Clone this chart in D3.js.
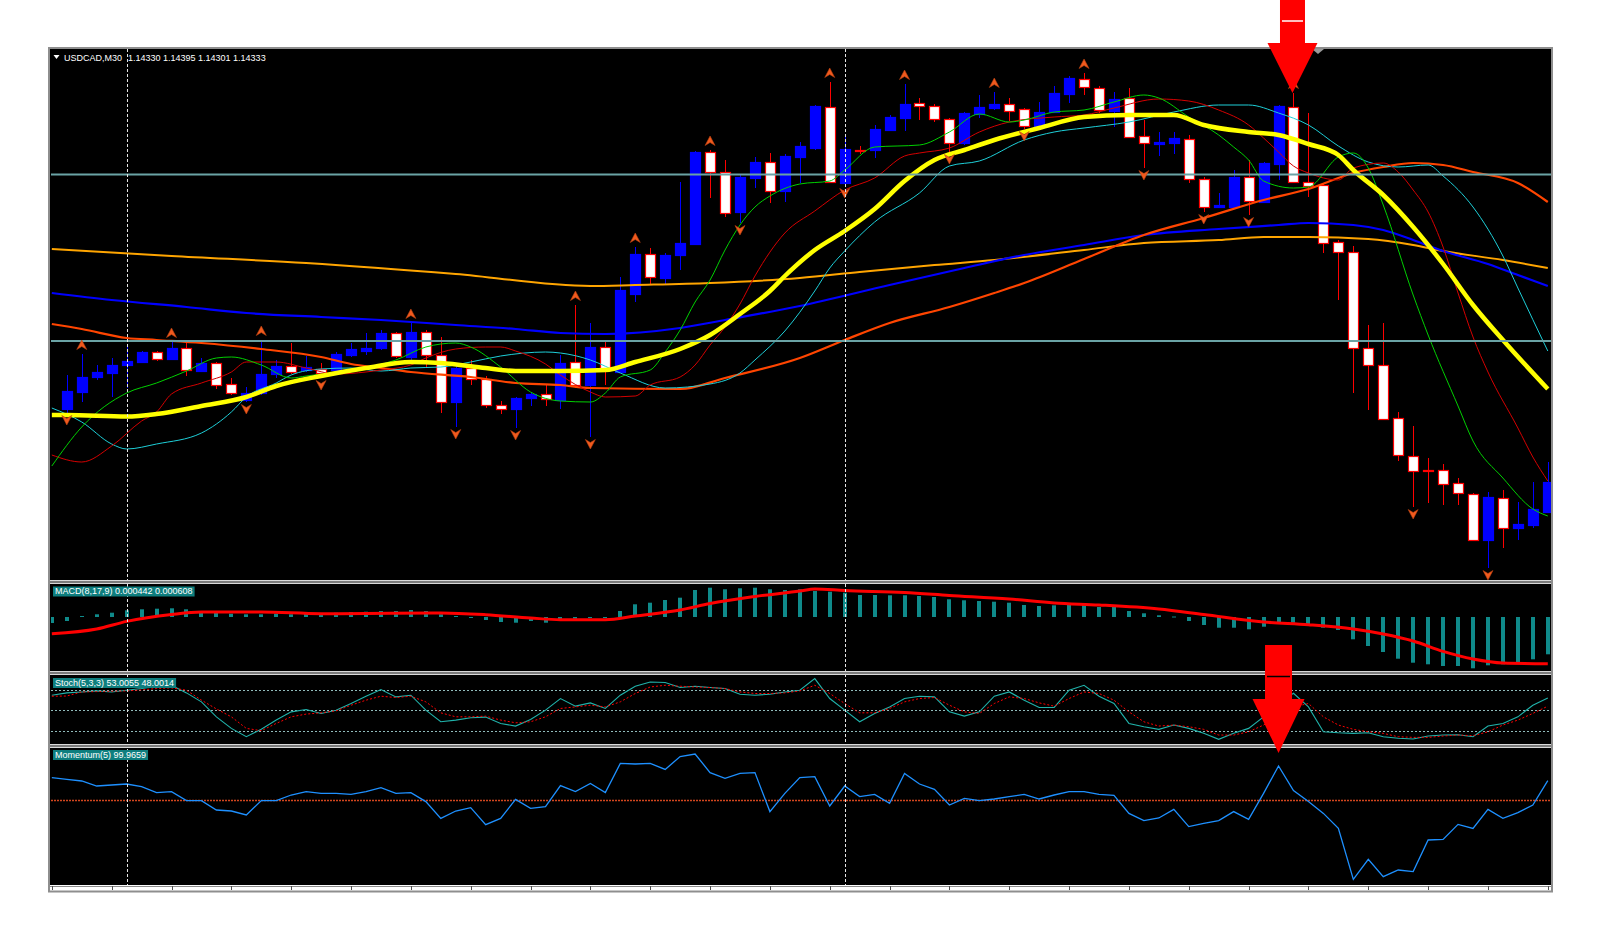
<!DOCTYPE html>
<html><head><meta charset="utf-8">
<script src="https://cdn.jsdelivr.net/npm/d3@7"></script>
<style>html,body{margin:0;padding:0;background:#fff;}svg{display:block;}</style>
</head><body>
<svg id="c" width="1600" height="940"></svg>
<script>
// ---------------- DATA ----------------
const symbolTitle = "USDCAD,M30";
const titleValues = "1.14330 1.14395 1.14301 1.14333";
const macdLabel = "MACD(8,17,9) 0.000442 0.000608";
const stochLabel = "Stoch(5,3,3) 53.0055 48.0014";
const momLabel = "Momentum(5) 99.9659";

const candleOpen = [1.14182,1.14216,1.14246,1.14254,1.14270,1.14276,1.14296,1.14282,1.14304,1.14258,1.14274,1.14232,1.14200,1.14214,1.14252,1.14268,1.14260,1.14262,1.14260,1.14290,1.14298,1.14304,1.14334,1.14286,1.14336,1.14290,1.14196,1.14264,1.14242,1.14190,1.14182,1.14204,1.14212,1.14200,1.14276,1.14230,1.14306,1.14256,1.14412,1.14492,1.14444,1.14490,1.14512,1.14696,1.14656,1.14576,1.14644,1.14676,1.14618,1.14686,1.14704,1.14786,1.14634,1.14700,1.14700,1.14740,1.14764,1.14794,1.14788,1.14762,1.14714,1.14772,1.14784,1.14792,1.14782,1.14748,1.14776,1.14812,1.14842,1.14824,1.14778,1.14804,1.14728,1.14713,1.14714,1.14722,1.14642,1.14587,1.14586,1.14646,1.14596,1.14672,1.14786,1.14636,1.14630,1.14516,1.14496,1.14304,1.14270,1.14164,1.14088,1.14060,1.14060,1.14034,1.14012,1.13920,1.14004,1.13944,1.13950,1.13976];
const candleHigh = [1.14250,1.14292,1.14270,1.14284,1.14310,1.14298,1.14298,1.14316,1.14314,1.14284,1.14276,1.14244,1.14226,1.14320,1.14280,1.14314,1.14288,1.14274,1.14296,1.14314,1.14334,1.14340,1.14336,1.14354,1.14340,1.14326,1.14270,1.14280,1.14248,1.14198,1.14206,1.14216,1.14230,1.14290,1.14390,1.14354,1.14316,1.14446,1.14506,1.14504,1.14494,1.14636,1.14698,1.14700,1.14680,1.14650,1.14686,1.14694,1.14692,1.14716,1.14790,1.14836,1.14726,1.14708,1.14750,1.14770,1.14832,1.14804,1.14792,1.14764,1.14776,1.14810,1.14816,1.14804,1.14784,1.14796,1.14828,1.14848,1.14854,1.14828,1.14816,1.14824,1.14760,1.14736,1.14736,1.14730,1.14646,1.14614,1.14660,1.14680,1.14676,1.14790,1.14814,1.14774,1.14632,1.14520,1.14508,1.14350,1.14354,1.14176,1.14148,1.14084,1.14072,1.14044,1.14014,1.14016,1.14020,1.13996,1.14036,1.14076];
const candleLow = [1.14174,1.14196,1.14240,1.14206,1.14224,1.14274,1.14278,1.14280,1.14248,1.14256,1.14222,1.14210,1.14196,1.14210,1.14244,1.14252,1.14256,1.14244,1.14256,1.14286,1.14290,1.14300,1.14284,1.14280,1.14264,1.14174,1.14146,1.14230,1.14184,1.14172,1.14144,1.14188,1.14188,1.14182,1.14224,1.14126,1.14230,1.14254,1.14396,1.14432,1.14432,1.14460,1.14510,1.14604,1.14566,1.14554,1.14624,1.14594,1.14596,1.14634,1.14700,1.14634,1.14628,1.14692,1.14684,1.14740,1.14738,1.14760,1.14756,1.14696,1.14710,1.14764,1.14780,1.14758,1.14742,1.14744,1.14774,1.14794,1.14810,1.14774,1.14746,1.14724,1.14664,1.14688,1.14692,1.14634,1.14576,1.14586,1.14586,1.14570,1.14594,1.14640,1.14636,1.14606,1.14494,1.14400,1.14214,1.14180,1.14160,1.14078,1.13986,1.13994,1.13990,1.13990,1.13918,1.13864,1.13904,1.13920,1.13944,1.13976];
const candleClose = [1.14218,1.14246,1.14256,1.14270,1.14278,1.14296,1.14282,1.14304,1.14260,1.14274,1.14230,1.14214,1.14214,1.14252,1.14268,1.14256,1.14266,1.14254,1.14292,1.14302,1.14304,1.14334,1.14288,1.14336,1.14290,1.14196,1.14264,1.14242,1.14190,1.14182,1.14204,1.14212,1.14202,1.14274,1.14230,1.14306,1.14260,1.14420,1.14492,1.14446,1.14490,1.14514,1.14696,1.14656,1.14574,1.14646,1.14676,1.14618,1.14688,1.14708,1.14788,1.14636,1.14702,1.14698,1.14742,1.14766,1.14792,1.14788,1.14762,1.14714,1.14774,1.14786,1.14792,1.14778,1.14748,1.14776,1.14814,1.14844,1.14826,1.14780,1.14802,1.14726,1.14714,1.14716,1.14724,1.14642,1.14586,1.14590,1.14646,1.14598,1.14674,1.14788,1.14636,1.14628,1.14514,1.14496,1.14304,1.14270,1.14162,1.14090,1.14058,1.14058,1.14032,1.14014,1.13920,1.14006,1.13944,1.13952,1.13982,1.14036];

// moving averages: [bar index, price]
const maYellow = [[-1,1.14170],[0,1.14170],[4,1.14167],[6,1.14172],[9,1.14188],[12,1.14206],[14,1.14228],[17,1.14248],[20,1.14264],[23,1.14276],[25,1.14274],[28,1.14264],[30,1.14258],[33,1.14258],[36,1.14260],[38,1.14276],[41,1.14302],[43,1.14330],[45,1.14372],[47,1.14418],[48,1.14448],[50,1.14500],[52,1.14538],[54,1.14582],[56,1.14638],[58,1.14680],[60,1.14700],[62,1.14720],[65,1.14744],[68,1.14766],[71,1.14770],[74,1.14770],[76,1.14750],[79,1.14736],[81,1.14730],[83,1.14712],[85,1.14690],[86,1.14660],[88,1.14610],[90,1.14546],[92,1.14472],[94,1.14390],[96,1.14320],[99,1.14222]];
const maGreen = [[-1,1.14068],[1,1.14146],[4,1.14214],[6,1.14234],[8,1.14258],[10,1.14284],[11,1.14286],[13,1.14270],[15,1.14244],[16,1.14248],[19,1.14260],[22,1.14280],[24,1.14306],[26,1.14314],[27,1.14306],[29,1.14266],[31,1.14216],[33,1.14198],[35,1.14196],[36,1.14214],[37,1.14246],[39,1.14260],[40,1.14296],[41,1.14340],[42,1.14396],[43,1.14440],[44,1.14500],[45,1.14550],[46,1.14586],[47,1.14608],[49,1.14632],[51,1.14638],[52,1.14660],[54,1.14706],[57,1.14710],[59,1.14736],[61,1.14772],[63,1.14756],[64,1.14760],[66,1.14776],[68,1.14780],[70,1.14796],[72,1.14810],[73,1.14804],[75,1.14766],[77,1.14730],[78,1.14706],[79,1.14680],[80,1.14638],[82,1.14624],[83,1.14626],[85,1.14686],[86,1.14694],[87,1.14664],[88,1.14590],[90,1.14410],[91,1.14330],[93,1.14188],[94,1.14118],[96,1.14044],[98,1.13982],[99,1.13968]];
const maRed = [[-1,1.14090],[1,1.14076],[3,1.14108],[5,1.14158],[6,1.14176],[7,1.14212],[9,1.14234],[11,1.14256],[12,1.14276],[14,1.14276],[16,1.14264],[18,1.14252],[20,1.14256],[21,1.14260],[23,1.14270],[24,1.14284],[26,1.14302],[28,1.14306],[29,1.14306],[30,1.14298],[32,1.14272],[33,1.14250],[35,1.14216],[36,1.14206],[38,1.14208],[39,1.14230],[41,1.14246],[42,1.14270],[43,1.14310],[44,1.14346],[45,1.14392],[46,1.14448],[48,1.14534],[50,1.14578],[52,1.14620],[54,1.14644],[56,1.14688],[57,1.14694],[59,1.14704],[61,1.14736],[63,1.14756],[66,1.14766],[68,1.14770],[70,1.14784],[73,1.14802],[75,1.14798],[77,1.14780],[79,1.14750],[80,1.14724],[81,1.14696],[82,1.14668],[83,1.14654],[85,1.14640],[86,1.14664],[88,1.14674],[89,1.14656],[90,1.14620],[91,1.14576],[92,1.14506],[93,1.14414],[94,1.14326],[95,1.14256],[97,1.14144],[98,1.14086],[99,1.14038]];
const maCyan = [[-1,1.14184],[1,1.14156],[3,1.14112],[4,1.14102],[6,1.14112],[9,1.14134],[11,1.14176],[12,1.14206],[14,1.14234],[15,1.14250],[17,1.14262],[19,1.14264],[21,1.14258],[23,1.14264],[25,1.14266],[27,1.14276],[29,1.14288],[32,1.14296],[33,1.14294],[35,1.14280],[37,1.14254],[40,1.14224],[43,1.14232],[45,1.14254],[46,1.14280],[48,1.14338],[50,1.14418],[51,1.14464],[52,1.14498],[54,1.14556],[57,1.14614],[59,1.14668],[61,1.14678],[64,1.14720],[66,1.14736],[68,1.14744],[71,1.14756],[74,1.14776],[77,1.14790],[79,1.14790],[81,1.14774],[83,1.14750],[85,1.14708],[87,1.14676],[89,1.14666],[91,1.14670],[92,1.14648],[94,1.14586],[96,1.14488],[97,1.14424],[99,1.14298]];
const maOrangeRed = [[-1,1.14352],[1,1.14342],[4,1.14324],[6,1.14320],[9,1.14314],[13,1.14302],[17,1.14286],[19,1.14272],[21,1.14264],[23,1.14256],[27,1.14246],[30,1.14234],[33,1.14230],[35,1.14224],[41,1.14222],[44,1.14244],[49,1.14284],[52,1.14320],[55,1.14354],[59,1.14386],[62,1.14414],[64,1.14434],[68,1.14482],[72,1.14530],[76,1.14564],[80,1.14600],[83,1.14622],[86,1.14654],[88,1.14666],[90,1.14674],[92,1.14670],[94,1.14656],[97,1.14634],[99,1.14596]];
const maBlue = [[-1,1.14414],[3,1.14400],[8,1.14386],[12,1.14374],[17,1.14366],[21,1.14360],[26,1.14350],[30,1.14342],[33,1.14334],[36,1.14332],[41,1.14344],[44,1.14360],[49,1.14388],[55,1.14430],[60,1.14464],[64,1.14490],[68,1.14510],[72,1.14530],[77,1.14542],[81,1.14550],[83,1.14554],[86,1.14550],[88,1.14540],[90,1.14520],[92,1.14498],[95,1.14472],[97,1.14450],[99,1.14428]];
const maOrange = [[-1,1.14502],[7,1.14488],[16,1.14474],[26,1.14452],[35,1.14428],[38,1.14430],[43,1.14434],[49,1.14444],[53,1.14456],[58,1.14470],[62,1.14480],[68,1.14500],[72,1.14514],[77,1.14520],[80,1.14526],[83,1.14526],[87,1.14522],[90,1.14510],[92,1.14498],[96,1.14480],[99,1.14464]];

const horizontalLevels = [1.14651, 1.14318];
const periodSeparators = [4, 52];
const fractalUp = [1,7,13,23,34,38,43,51,56,62,68,82];
const fractalDown = [0,12,17,26,30,35,45,52,59,64,72,76,79,90,95];

// indicator series start one bar before the first full candle (bar -1)
const indicatorFirstBar = -1;
const macdHist = [-0.00012,-0.00008,0.00002,0.000054,0.000086,0.000134,0.000154,0.000166,0.000174,0.000154,0.00012,0.0001,0.000066,0.000054,0.000054,0.000066,0.000054,0.000066,0.000066,0.000086,0.0001,0.000106,0.00012,0.00012,0.00014,0.00012,0.000054,0.00002,-0.000014,-0.00006,-0.0001,-0.000114,-0.00008,-0.000114,-0.00006,-0.000034,-0.00002,-0.000014,0.00012,0.000254,0.000286,0.00034,0.000386,0.00054,0.000586,0.000554,0.000574,0.000586,0.000554,0.00054,0.000554,0.00052,0.000506,0.000486,0.00044,0.00044,0.000434,0.000434,0.00042,0.0004,0.000354,0.000334,0.00032,0.000306,0.000286,0.00024,0.00022,0.000234,0.00024,0.00024,0.0002,0.0002,0.00012,0.000074,0.000034,0.00001,-0.00008,-0.00016,-0.000214,-0.000214,-0.000246,-0.000194,-0.0001,-0.000114,-0.000146,-0.000214,-0.00026,-0.000446,-0.00058,-0.0007,-0.000834,-0.000914,-0.000946,-0.00098,-0.00098,-0.001026,-0.000966,-0.000946,-0.0009,-0.000846,-0.000746];
const macdSignal = [[-1,-0.000334],[2,-0.00024],[4,-0.000088],[7,0.00005],[9,0.0001],[13,0.0001],[17,0.000066],[20,0.00007],[25,0.00008],[28,0.000046],[31,-0.00002],[33,-0.000054],[36,-0.000054],[38,0.00002],[41,0.00014],[43,0.00027],[46,0.00041],[49,0.00052],[50,0.00056],[52,0.00053],[56,0.00049],[59,0.000432],[63,0.00036],[66,0.00028],[69,0.00024],[73,0.00016],[76,0.00005],[80,-0.0001],[83,-0.000154],[86,-0.00024],[88,-0.00034],[90,-0.00048],[92,-0.000688],[94,-0.00084],[96,-0.00092],[99,-0.000934]];

const stochK = [72.2,75.6,77,78.5,77,79.5,82,85,86.8,75.6,62.4,40.4,23.4,11.1,22,35.6,47.7,51.2,45.4,50.2,60,70.7,80.5,69.7,72.2,50.2,33.1,35.6,39,40,30.7,26.8,36.6,50.2,67.3,56.1,60.9,52.7,72.2,85.4,91.7,90.8,83.5,85.4,83.5,82,73.6,72.2,73.6,77,79.5,96.6,67.3,50.2,33.1,45.4,55,67.3,70.7,69.7,47.7,41.4,47.7,70.7,77,64.9,54.2,54.2,79.5,86.8,70.7,60,30.7,25.8,22,28.3,23.4,16.1,7.3,16.1,23.4,40.4,60,75,55,18.4,17,16.1,17,11.1,8.8,7.8,12.2,13.6,14.1,11.1,26.8,30.7,40.4,57.5,68.2];
const stochD = [70.7,71,77,77.5,78,78.5,80,82,83,79.5,64.9,52,40.4,23.4,20,30.7,40.4,44.4,46.3,49.2,57.5,64.9,70.7,68.8,70.7,62.4,46.3,40.4,40.4,41.4,35.6,31.6,33.1,40.4,52.7,55,57.5,55,62.4,74.7,84.3,86.8,85.4,84.3,83.5,82,77,74.7,74.7,75.6,78.5,86.8,74.7,60,46.3,46.3,52.7,62.4,67.3,68.8,57.5,47.7,45.4,60,69.7,67.3,60.9,56.1,67.3,77,74.7,64.9,47.7,33.1,26.8,28.3,25.8,22,13.6,13.6,18.4,28.3,42,55,60,40.4,28.3,22,18.4,16.1,11.1,10.2,10.2,12.2,13.6,12.6,18.4,28.3,35.6,45.4,56.1];
const stochLevels = [80, 50, 20];

const momentum = [100.112,100.103,100.095,100.07,100.075,100.08,100.067,100.037,100.042,99.997,99.997,99.95,99.945,99.925,99.997,99.997,100.025,100.042,100.033,100.033,100.028,100.042,100.062,100.033,100.037,99.992,99.908,99.945,99.962,99.877,99.908,100.003,99.958,99.967,100.072,100.042,100.083,100.037,100.183,100.18,100.183,100.153,100.217,100.23,100.137,100.108,100.133,100.137,99.942,100.033,100.112,100.117,99.97,100.07,100.017,100.028,99.983,100.133,100.08,100.053,99.975,100.008,99.997,100.005,100.017,100.028,100.005,100.025,100.042,100.042,100.028,100.023,99.933,99.897,99.91,99.953,99.867,99.883,99.897,99.942,99.903,100.033,100.17,100.047,99.992,99.933,99.858,99.603,99.703,99.617,99.65,99.642,99.8,99.803,99.878,99.858,99.953,99.908,99.937,99.975,100.097];
const momentumLevel = 100;

// annotation arrows (bar index they point at)
const arrowMainBar = 82;
const arrowLowerBar = 81;

// ---------------- LAYOUT ----------------
const svg = d3.select('#c');
const L = 51, R = 1551;
const P = { main:[49,580], macd:[584,671], stoch:[675,744], mom:[748,885] };

const x = d3.scaleLinear().domain([0,99]).range([66.8,1547.8]);
const xi = i => x(i + indicatorFirstBar);
const yMain = d3.scaleLinear().domain([1.13840,1.14904]).range([580,48]);
const yMacd = d3.scaleLinear().domain([-0.00108,0.00066]).range([671,584]);
const yStoch = d3.scaleLinear().domain([0,100]).range([744.3,676.3]);
const yMom = d3.scaleLinear().domain([99.58,100.26]).range([884,748]);

const FONT = "'Liberation Sans', Arial, sans-serif";

svg.append('rect').attr('width',1600).attr('height',940).attr('fill','#fff');
svg.append('rect').attr('x',49).attr('y',48).attr('width',1503).attr('height',838).attr('fill','#000');

const defs = svg.append('defs');
Object.entries(P).forEach(([k,[t,b]])=>{
  defs.append('clipPath').attr('id','clip-'+k).append('rect').attr('x',L).attr('y',t).attr('width',R-L).attr('height',b-t);
});
function panel(k){ return svg.append('g').attr('clip-path',`url(#clip-${k})`); }

const cx = i => Math.round(x(i)) + 0.5;

// ---------------- MAIN PANEL ----------------
const gMain = panel('main');
const bars = candleOpen.map((o,i)=>({i,o,h:candleHigh[i],l:candleLow[i],c:candleClose[i]}));
const bull = d => d.c > d.o;

gMain.selectAll('line.wick').data(bars).join('line')
  .attr('x1',d=>cx(d.i)).attr('x2',d=>cx(d.i))
  .attr('y1',d=>yMain(d.h)).attr('y2',d=>yMain(d.l))
  .attr('stroke',d=>bull(d)?'#0000FF':'#FF0000').attr('stroke-width',1);
gMain.selectAll('rect.body').data(bars).join('rect')
  .attr('x',d=>cx(d.i)-5).attr('width',10)
  .attr('y',d=>Math.round(yMain(Math.max(d.o,d.c)))+0.5)
  .attr('height',d=>Math.max(1,Math.round(yMain(Math.min(d.o,d.c)))-Math.round(yMain(Math.max(d.o,d.c)))))
  .attr('fill',d=>bull(d)?'#0000FF':'#FFFFFF')
  .attr('stroke',d=>bull(d)?'#0000FF':'#FF0000').attr('stroke-width',1.2);

const maLine = d3.line().x(d=>x(d[0])).y(d=>yMain(d[1])).curve(d3.curveMonotoneX);
[
  [maOrange,'#FFA500',2],
  [maBlue,'#0000FF',2.2],
  [maOrangeRed,'#FF4500',2.2],
  [maCyan,'#1ECFD8',1],
  [maRed,'#D40000',1],
  [maGreen,'#00D000',1],
  [maYellow,'#FFFF00',4.5]
].forEach(([data,color,w])=>{
  gMain.append('path').datum(data).attr('d',maLine).attr('fill','none')
    .attr('stroke',color).attr('stroke-width',w).attr('stroke-linejoin','round');
});

gMain.selectAll('line.hl').data(horizontalLevels).join('line')
  .attr('x1',L).attr('x2',R).attr('y1',d=>yMain(d)).attr('y2',d=>yMain(d))
  .attr('stroke','#6AA3A5').attr('stroke-width',2);

const upPath = "M0,-5 L5,4.5 L0,1.5 L-5,4.5 Z";
const downPath = "M0,5 L5,-4.5 L0,-1.5 L-5,-4.5 Z";
gMain.selectAll('path.fu').data(fractalUp).join('path')
  .attr('d',upPath).attr('transform',i=>`translate(${x(i)},${yMain(candleHigh[i])-9})`)
  .attr('fill','#F05A1E').attr('stroke','#B8400F').attr('stroke-width',0.6);
gMain.selectAll('path.fd').data(fractalDown).join('path')
  .attr('d',downPath).attr('transform',i=>`translate(${x(i)},${yMain(candleLow[i])+7})`)
  .attr('fill','#F05A1E').attr('stroke','#B8400F').attr('stroke-width',0.6);

// ---------------- MACD ----------------
const gMacd = panel('macd');
gMacd.selectAll('rect.h').data(macdHist).join('rect')
  .attr('x',(d,i)=>Math.round(xi(i))-2).attr('width',4)
  .attr('y',d=>Math.min(yMacd(0),yMacd(d))).attr('height',d=>Math.max(1,Math.abs(yMacd(d)-yMacd(0))))
  .attr('fill','#0F8A8A');
gMacd.append('path').datum(macdSignal)
  .attr('d',d3.line().x(d=>x(d[0])).y(d=>yMacd(d[1])).curve(d3.curveMonotoneX))
  .attr('fill','none').attr('stroke','#FF0000').attr('stroke-width',3);

// ---------------- STOCH ----------------
const gSt = panel('stoch');
gSt.selectAll('line.lv').data(stochLevels).join('line')
  .attr('x1',L).attr('x2',R).attr('y1',d=>Math.round(yStoch(d))+0.5).attr('y2',d=>Math.round(yStoch(d))+0.5)
  .attr('stroke','#8FBABA').attr('stroke-width',1).attr('stroke-dasharray','2,2');
gSt.append('path').datum(stochK)
  .attr('d',d3.line().x((d,i)=>xi(i)).y(d=>yStoch(d)))
  .attr('fill','none').attr('stroke','#20B2AA').attr('stroke-width',1.1);
gSt.append('path').datum(stochD)
  .attr('d',d3.line().x((d,i)=>xi(i)).y(d=>yStoch(d)))
  .attr('fill','none').attr('stroke','#FF0000').attr('stroke-width',1).attr('stroke-dasharray','2,2');

// ---------------- MOMENTUM ----------------
const gMo = panel('mom');
gMo.append('line').attr('x1',L).attr('x2',R)
  .attr('y1',Math.round(yMom(momentumLevel))+0.5).attr('y2',Math.round(yMom(momentumLevel))+0.5)
  .attr('stroke','#D2461E').attr('stroke-width',1.3).attr('stroke-dasharray','2,1');
gMo.append('path').datum(momentum)
  .attr('d',d3.line().x((d,i)=>xi(i)).y(d=>yMom(d)))
  .attr('fill','none').attr('stroke','#1E90FF').attr('stroke-width',1.3);

// ---------------- period separators ----------------
svg.selectAll('line.ps').data(periodSeparators).join('line')
  .attr('x1',d=>cx(d)).attr('x2',d=>cx(d)).attr('y1',49).attr('y2',885)
  .attr('stroke','#E6E6E6').attr('stroke-width',1).attr('stroke-dasharray','3,2');

// ---------------- separators & frame ----------------
[[580,584],[671,675],[744,748]].forEach(([a,b])=>{
  svg.append('rect').attr('x',49).attr('y',a).attr('width',1503).attr('height',b-a).attr('fill','#7A7A7A');
  svg.append('line').attr('x1',49).attr('x2',1552).attr('y1',a+0.5).attr('y2',a+0.5).attr('stroke','#D8D8D8');
  svg.append('line').attr('x1',49).attr('x2',1552).attr('y1',b-0.5).attr('y2',b-0.5).attr('stroke','#D8D8D8');
});
svg.append('rect').attr('x',49).attr('y',885).attr('width',1503).attr('height',6).attr('fill','#fff');
svg.append('line').attr('x1',49).attr('x2',1552).attr('y1',886.5).attr('y2',886.5).attr('stroke','#8A8A8A');
const tickIdx = d3.range(-1,100,4);
svg.selectAll('line.tk').data(tickIdx).join('line')
  .attr('x1',d=>cx(d)).attr('x2',d=>cx(d)).attr('y1',886).attr('y2',890)
  .attr('stroke','#505050');
svg.append('rect').attr('x',49).attr('y',48).attr('width',1503).attr('height',843.5)
  .attr('fill','none').attr('stroke','#8E8E8E').attr('stroke-width',2);
svg.append('path').attr('d','M1312,49 L1324,49 L1318,54 Z').attr('fill','#9A9A9A');

// ---------------- labels ----------------
svg.append('path').attr('d','M53.5,55 L59.5,55 L56.5,59 Z').attr('fill','#fff');
svg.append('text').attr('x',64).attr('y',60.5).attr('fill','#fff').attr('font-family',FONT).attr('font-size',9)
  .text(symbolTitle);
svg.append('text').attr('x',128).attr('y',60.5).attr('fill','#fff').attr('font-family',FONT).attr('font-size',9)
  .text(titleValues);

function boxLabel(txt, top){
  const t = svg.append('text').attr('x',55).attr('y',top+7.8).attr('fill','#fff')
    .attr('font-family',FONT).attr('font-size',9).text(txt);
  const w = t.node().getComputedTextLength();
  svg.insert('rect', () => t.node()).attr('x',53).attr('y',top).attr('width',w+4).attr('height',10).attr('fill','#0E7E7E');
}
boxLabel(macdLabel, 586.5);
boxLabel(stochLabel, 678);
boxLabel(momLabel, 750);

// ---------------- annotation arrows ----------------
function arrow(tipX, tipY, headLen, headHalf, shaftHalf, shaftTop, markY, markColor){
  const g = svg.append('g');
  g.append('path').attr('d',
    `M${tipX-shaftHalf},${shaftTop} L${tipX+shaftHalf},${shaftTop} L${tipX+shaftHalf},${tipY-headLen} `+
    `L${tipX+headHalf},${tipY-headLen} L${tipX},${tipY} L${tipX-headHalf},${tipY-headLen} L${tipX-shaftHalf},${tipY-headLen} Z`)
    .attr('fill','#FF0000');
  g.append('line').attr('x1',tipX-shaftHalf+2).attr('x2',tipX+shaftHalf-2).attr('y1',markY).attr('y2',markY)
    .attr('stroke',markColor).attr('stroke-width',1.5);
}
const a1x = x(arrowMainBar), a1y = yMain(candleHigh[arrowMainBar]);
arrow(a1x-1, a1y, 50, 25, 12.5, 0, 21, '#FFFFFF');
const a2x = x(arrowLowerBar);
arrow(a2x, yMom(100.235), 54, 26, 13.5, 645, 676.5, '#000000');
</script>
</body></html>
